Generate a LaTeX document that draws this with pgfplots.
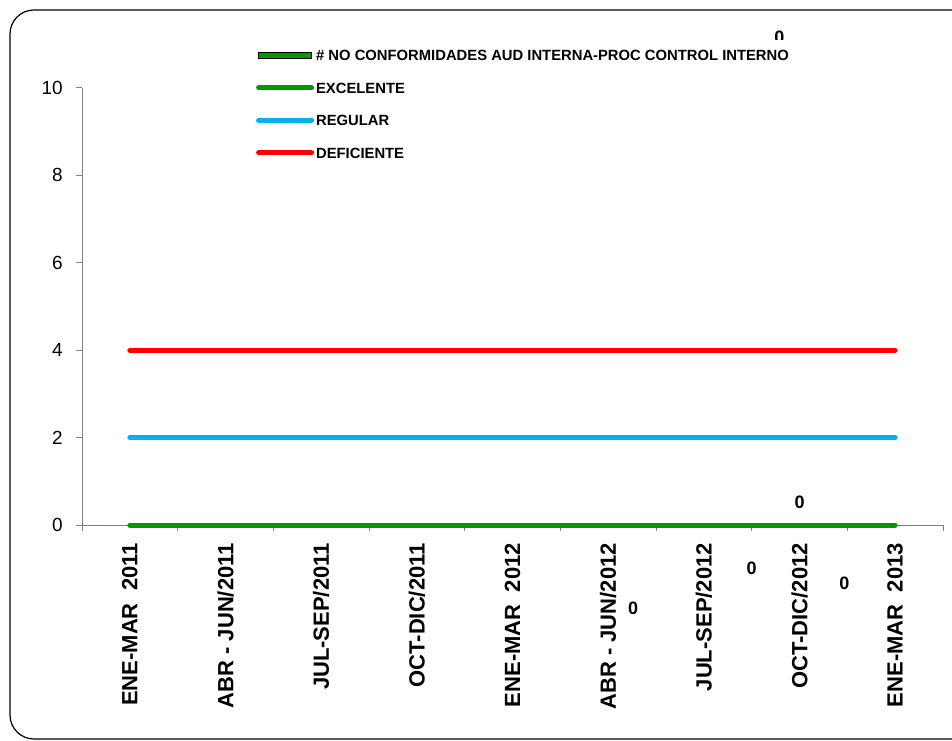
\documentclass[border=0pt]{standalone}
\usepackage{pgfplots}
\pgfplotsset{compat=1.18}
\usepackage{fontspec}
\setmainfont{Liberation Sans}
\definecolor{exc}{RGB}{0,153,0}
\definecolor{reg}{RGB}{0,176,240}
\definecolor{def}{RGB}{255,0,0}
\definecolor{axgray}{RGB}{128,128,128}
\begin{document}
\begin{tikzpicture}
\useasboundingbox (0pt,0pt) rectangle (952pt,740pt);
\draw[line width=1.2pt, rounded corners=24pt] (10pt,1pt) rectangle (995pt,730pt);
\begin{axis}[
  at={(82pt,215pt)}, anchor=south west, scale only axis,
  width=861pt, height=437pt,
  xmin=-0.5, xmax=8.5, ymin=0, ymax=10,
  axis lines*=left,
  axis line style={axgray, line width=1pt},
  every tick/.style={axgray, line width=1pt},
  tick align=outside, major tick length=6pt,
  xtick={-0.5,0.5,...,8.5},
  x tick label as interval,
  xticklabels={ENE-MAR\ \ 2011, ABR - JUN/2011, JUL-SEP/2011, OCT-DIC/2011, ENE-MAR\ \ 2012, ABR - JUN/2012, JUL-SEP/2012, OCT-DIC/2012, ENE-MAR\ \ 2013},
  xticklabel style={yshift=-12pt, rotate=90, anchor=east, font=\fontsize{22}{26}\selectfont\bfseries, inner sep=0pt},
  ytick={0,2,...,10},
  yticklabel style={xshift=-13pt, font=\fontsize{19}{22}\selectfont, inner sep=0pt},
  /pgf/number format/assume math mode=true,
  clip=false,
  legend image code/.code={\draw[#1] (0pt,0pt) -- (53pt,0pt);},
  legend cell align=left,
  legend style={draw=none, fill=white, at={(0.202,1.111)}, anchor=north west,
    inner xsep=0pt, inner ysep=8pt, font=\fontsize{14.8}{17}\selectfont\bfseries,
    row sep=17.5pt, nodes={inner sep=2pt, text height=11pt, text depth=0pt}},
]
\addplot[ybar, bar width=40pt, fill=exc, draw=none,
  legend image code/.code={\draw[fill=exc, draw=black, line width=1.2pt] (0pt,-3pt) rectangle (53pt,3pt);}]
  coordinates {(0,0) (1,0) (2,0) (3,0) (4,0) (5,0) (6,0) (7,0) (8,0)};
\addlegendentry{\# NO CONFORMIDADES AUD INTERNA-PROC CONTROL INTERNO}
\addplot[exc, line width=5pt, line cap=round]
  coordinates {(0,0) (1,0) (2,0) (3,0) (4,0) (5,0) (6,0) (7,0) (8,0)};
\addlegendentry{EXCELENTE}
\addplot[reg, line width=5pt, line cap=round]
  coordinates {(0,2) (1,2) (2,2) (3,2) (4,2) (5,2) (6,2) (7,2) (8,2)};
\addlegendentry{REGULAR}
\addplot[def, line width=5pt, line cap=round]
  coordinates {(0,4) (1,4) (2,4) (3,4) (4,4) (5,4) (6,4) (7,4) (8,4)};
\addlegendentry{DEFICIENTE}
\begin{scope}[font=\fontsize{18}{20}\selectfont\bfseries]
\node at (axis cs:6.79,11.15) {0};
\node at (axis cs:7.0,0.53) {0};
\node at (axis cs:5.26,-1.90) {0};
\node at (axis cs:6.50,-0.98) {0};
\node at (axis cs:7.47,-1.33) {0};
\end{scope}
\end{axis}
\end{tikzpicture}
\end{document}
